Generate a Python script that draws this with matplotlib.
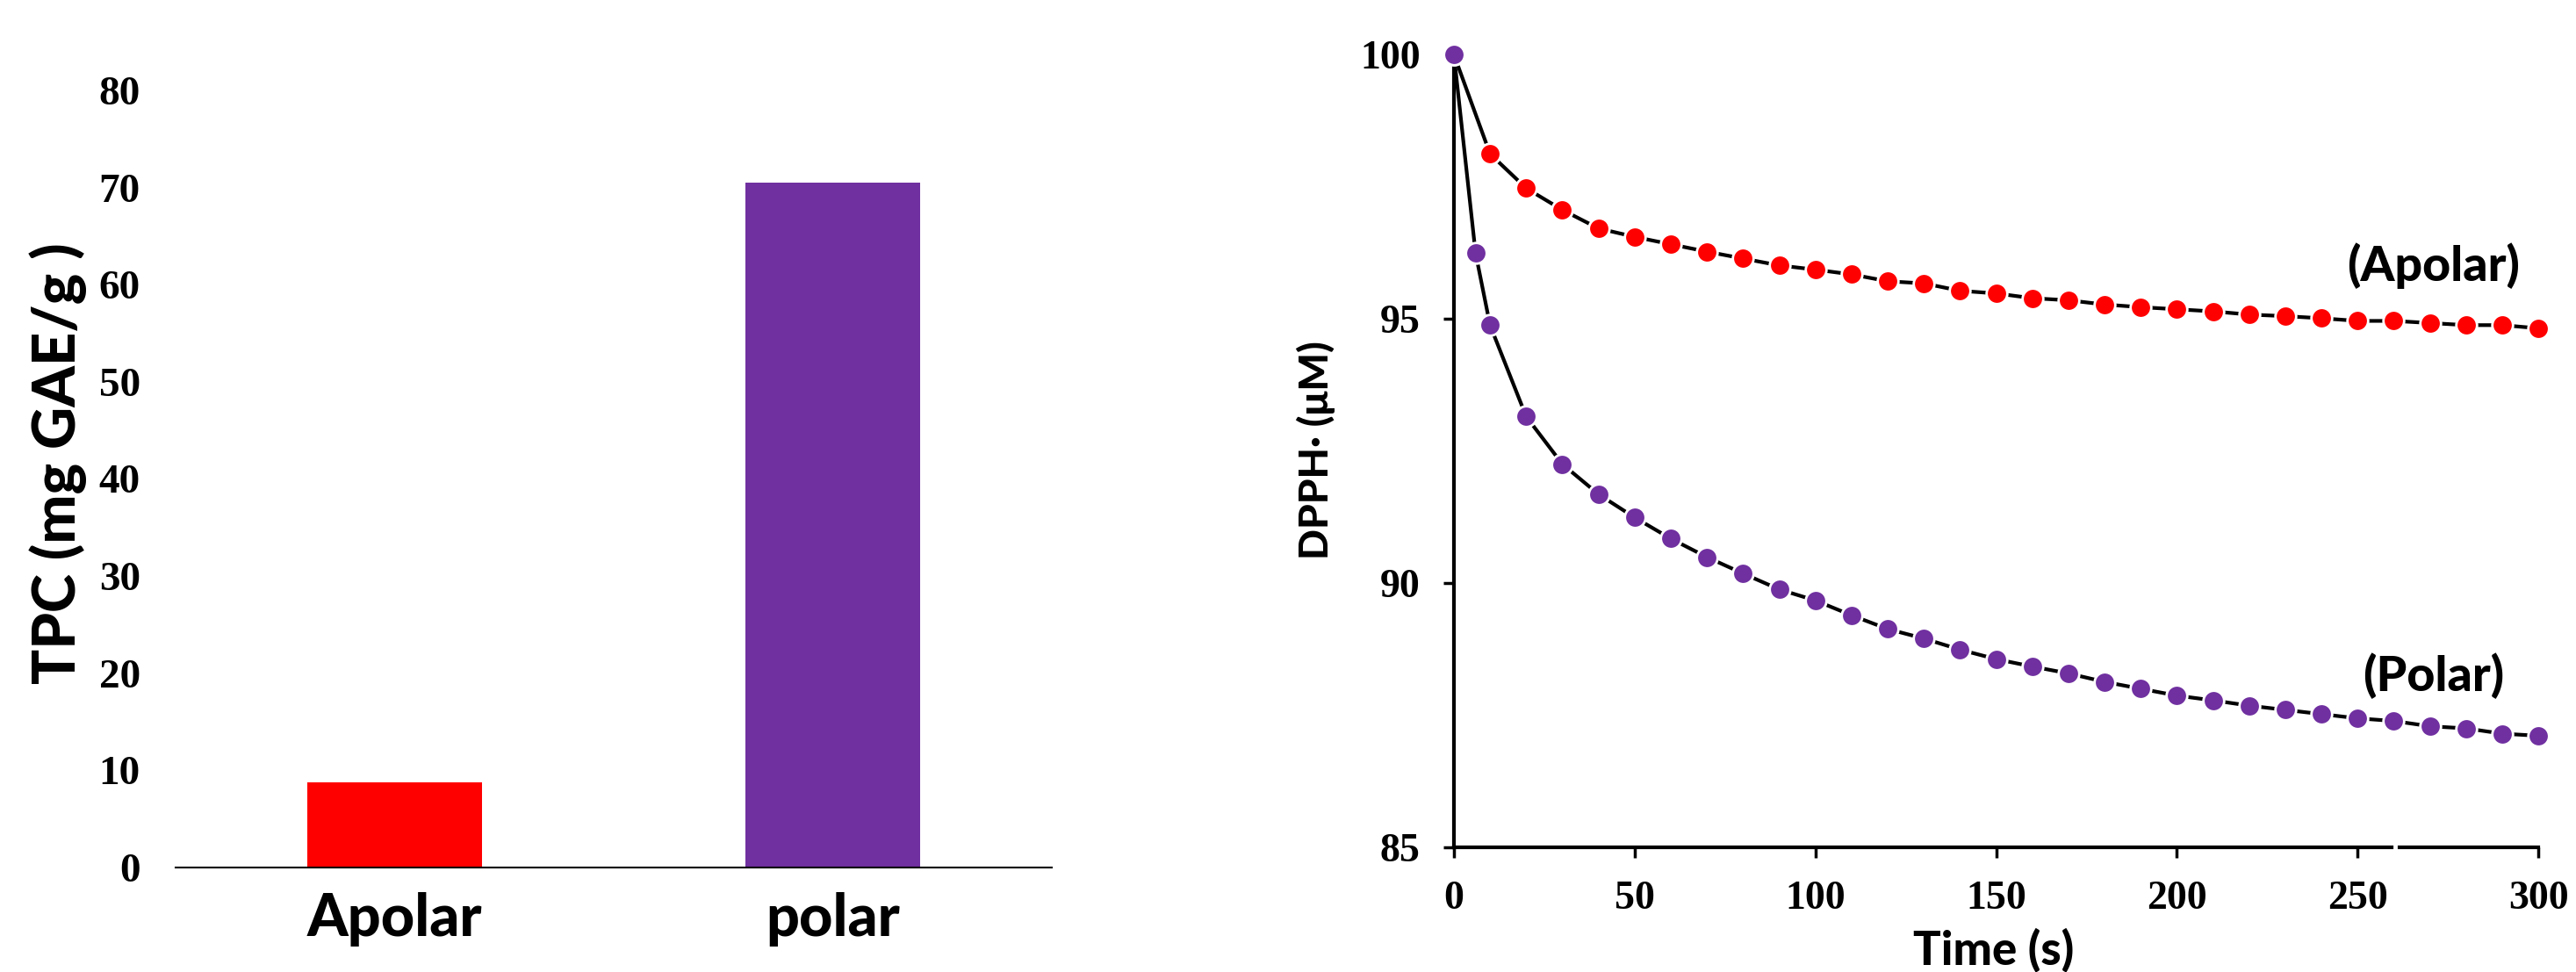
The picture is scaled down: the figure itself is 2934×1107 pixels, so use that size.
import matplotlib
matplotlib.use("Agg")
import matplotlib.pyplot as plt

# left panel: total phenolic content
extracts = ["Apolar", "polar"]
tpc_values = [8.8, 70.5]
tpc_colors = ["#FF0000", "#7030A0"]
tpc_ticks = [0, 10, 20, 30, 40, 50, 60, 70, 80]

# right panel: DPPH kinetics
time_apolar = [0, 10, 20, 30, 40, 50, 60, 70, 80, 90, 100, 110, 120, 130, 140, 150,
               160, 170, 180, 190, 200, 210, 220, 230, 240, 250, 260, 270, 280, 290, 300]
dpph_apolar = [100.0, 98.12, 97.47, 97.06, 96.71, 96.55, 96.41, 96.27, 96.14, 96.01, 95.93,
               95.84, 95.71, 95.67, 95.53, 95.48, 95.39, 95.35, 95.27, 95.22, 95.18, 95.14,
               95.08, 95.05, 95.01, 94.96, 94.96, 94.92, 94.88, 94.88, 94.82]
time_polar = [0, 6, 10, 20, 30, 40, 50, 60, 70, 80, 90, 100, 110, 120, 130, 140, 150,
              160, 170, 180, 190, 200, 210, 220, 230, 240, 250, 260, 270, 280, 290, 300]
dpph_polar = [100.0, 96.24, 94.88, 93.15, 92.25, 91.68, 91.24, 90.84, 90.49, 90.18, 89.88,
              89.67, 89.39, 89.13, 88.95, 88.74, 88.56, 88.42, 88.29, 88.13, 88.00, 87.87,
              87.78, 87.68, 87.60, 87.52, 87.44, 87.39, 87.29, 87.25, 87.15, 87.11]
time_ticks = [0, 50, 100, 150, 200, 250, 300]
dpph_ticks = [85, 90, 95, 100]

sans = ["Lato", "DejaVu Sans"]
serif = ["Liberation Serif", "DejaVu Serif"]
heavy = 900

fig = plt.figure(figsize=(29.34, 11.07), dpi=100)

# ---- bar chart
ax1 = fig.add_axes([0.0682, 0.1075, 0.340, 0.7995])
ax1.bar(range(len(extracts)), tpc_values, width=0.4, color=tpc_colors)
ax1.set_xlim(-0.5, 1.5)
ax1.set_ylim(0, 80)
ax1.set_yticks(tpc_ticks)
ax1.set_xticks(range(len(extracts)))
ax1.set_xticklabels(extracts, family=sans, fontweight=heavy, fontsize=48)
ax1.set_yticklabels([str(t) for t in tpc_ticks], family=serif, fontweight="bold", fontsize=34)
ax1.tick_params(axis="both", length=0)
ax1.tick_params(axis="y", pad=29)
ax1.tick_params(axis="x", pad=20)
for s in ["top", "right", "left"]:
    ax1.spines[s].set_visible(False)
ax1.spines["bottom"].set_linewidth(1.5)
fig.text(0.0225, 0.523, "TPC (mg GAE/g )", rotation=90, ha="center", va="center",
         family=sans, fontweight=heavy, fontsize=48)

# ---- kinetics
ax2 = fig.add_axes([0.5644, 0.1283, 0.421, 0.8156])
ax2.plot(time_apolar, dpph_apolar, color="black", lw=3, zorder=2, clip_on=False)
ax2.plot(time_polar, dpph_polar, color="black", lw=3, zorder=2, clip_on=False)
ax2.plot(time_apolar, dpph_apolar, "o", color="#FF0000", ms=17, mec="white", mew=2,
         zorder=3, clip_on=False)
ax2.plot(time_polar, dpph_polar, "o", color="#7030A0", ms=17, mec="white", mew=2,
         zorder=4, clip_on=False)
ax2.set_xlim(0, 300)
ax2.set_ylim(85, 100)
ax2.set_xticks(time_ticks)
ax2.set_yticks(dpph_ticks)
ax2.set_xticklabels([str(t) for t in time_ticks], family=serif, fontweight="bold", fontsize=33)
ax2.set_yticklabels([str(t) for t in dpph_ticks], family=serif, fontweight="bold", fontsize=33)
ax2.tick_params(axis="both", direction="out", length=8.5, width=2.5)
ax2.tick_params(axis="x", pad=19)
ax2.tick_params(axis="y", pad=19)
for s in ["top", "right", "bottom"]:
    ax2.spines[s].set_visible(False)
ax2.spines["left"].set_linewidth(3)
# x axis drawn in two pieces (small gap near 260 s as in the original)
ax2.axhline(85, xmin=0, xmax=0.865, color="black", lw=3, clip_on=False)
ax2.axhline(85, xmin=0.872, xmax=1.0, color="black", lw=3, clip_on=False)

ax2.text(271, 96.0, "(Apolar)", ha="center", va="center", family=sans,
         fontweight=heavy, fontsize=40)
ax2.text(271, 88.25, "(Polar)", ha="center", va="center", family=sans,
         fontweight=heavy, fontsize=40)
fig.text(0.511, 0.537, "DPPH\u00b7 (\u03bcM)", rotation=90, ha="center", va="center",
         family=sans, fontweight=heavy, fontsize=33)
fig.text(0.774, 0.0226, "Time (s)", ha="center", va="center", family=sans,
         fontweight=heavy, fontsize=38)

fig.savefig("out.png", dpi=100)
